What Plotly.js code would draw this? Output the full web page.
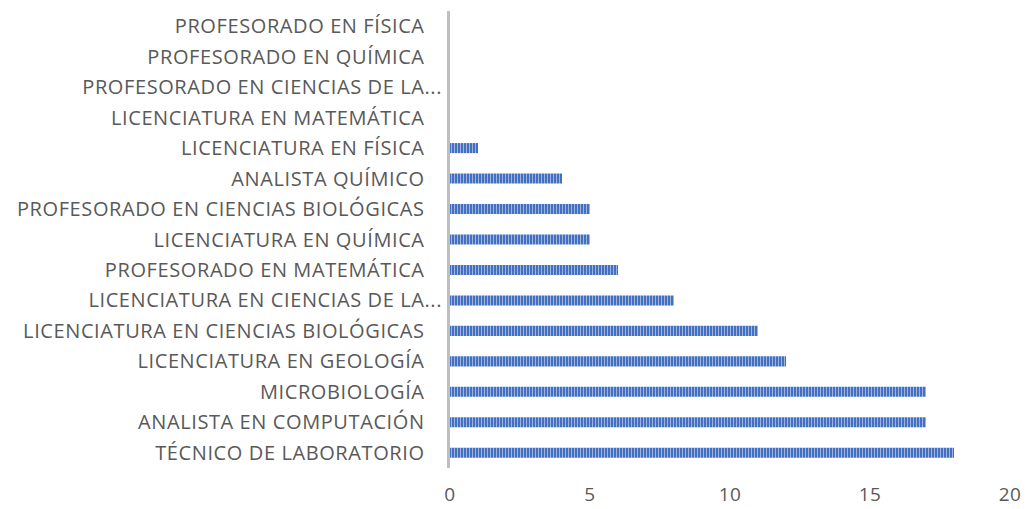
<!DOCTYPE html>
<html>
<head>
<meta charset="utf-8">
<script src="https://cdn.plot.ly/plotly-3.0.1.min.js"></script>
<style>html,body{margin:0;padding:0;background:#fff;}#chart{width:1027px;height:509px;}
#chart .ytick text{letter-spacing:0.6px;}
#chart .xtick text{letter-spacing:0.5px;}
</style>
</head>
<body>
<div id="chart"></div>
<script>
const categories = [
  "TÉCNICO DE LABORATORIO",
  "ANALISTA EN COMPUTACIÓN",
  "MICROBIOLOGÍA",
  "LICENCIATURA EN GEOLOGÍA",
  "LICENCIATURA EN CIENCIAS BIOLÓGICAS",
  "LICENCIATURA EN CIENCIAS DE LA...",
  "PROFESORADO EN MATEMÁTICA",
  "LICENCIATURA EN QUÍMICA",
  "PROFESORADO EN CIENCIAS BIOLÓGICAS",
  "ANALISTA QUÍMICO",
  "LICENCIATURA EN FÍSICA",
  "LICENCIATURA EN MATEMÁTICA",
  "PROFESORADO EN CIENCIAS DE LA...",
  "PROFESORADO EN QUÍMICA",
  "PROFESORADO EN FÍSICA"
];
const values = [18, 17, 17, 12, 11, 8, 6, 5, 5, 4, 1, 0, 0, 0, 0];
const xTicks = [0, 5, 10, 15, 20];

const pad = "\u00a0\u00a0\u00a0";
const tickText = categories.map(c => c.endsWith("...") ? c : c + pad);

const trace = {
  type: "bar",
  orientation: "h",
  x: values,
  y: categories,
  marker: {
    color: "#4a72c0",
    pattern: { shape: "|", fgcolor: "#9db3e0", bgcolor: "#4470c0", size: 3, solidity: 0.35 },
    line: { width: 0 }
  },
  hoverinfo: "x+y"
};

const layout = {
  width: 1027, height: 509,
  margin: { l: 450, r: 17, t: 11, b: 41 },
  paper_bgcolor: "#ffffff",
  plot_bgcolor: "#ffffff",
  bargap: 0.67,
  showlegend: false,
  font: { family: "'Open Sans', Lato, sans-serif", color: "#595959", size: 20 },
  xaxis: {
    range: [0, 20],
    tickvals: xTicks,
    ticktext: xTicks.map(String),
    showgrid: false,
    zeroline: false,
    showline: false,
    ticks: "",
    ticklabelstandoff: 13,
    tickfont: { size: 19, color: "#595959" },
    fixedrange: true
  },
  yaxis: {
    type: "category",
    categoryorder: "array",
    categoryarray: categories,
    tickvals: categories,
    ticktext: tickText,
    range: [-0.5, categories.length - 0.5],
    showgrid: false,
    zeroline: false,
    showline: true,
    linecolor: "#bfbfbf",
    linewidth: 3,
    ticks: "",
    ticklabelstandoff: 1,
    tickfont: { size: 20, color: "#595959" },
    fixedrange: true
  }
};

Plotly.newPlot("chart", [trace], layout, { displayModeBar: false, staticPlot: true });
</script>
</body>
</html>
